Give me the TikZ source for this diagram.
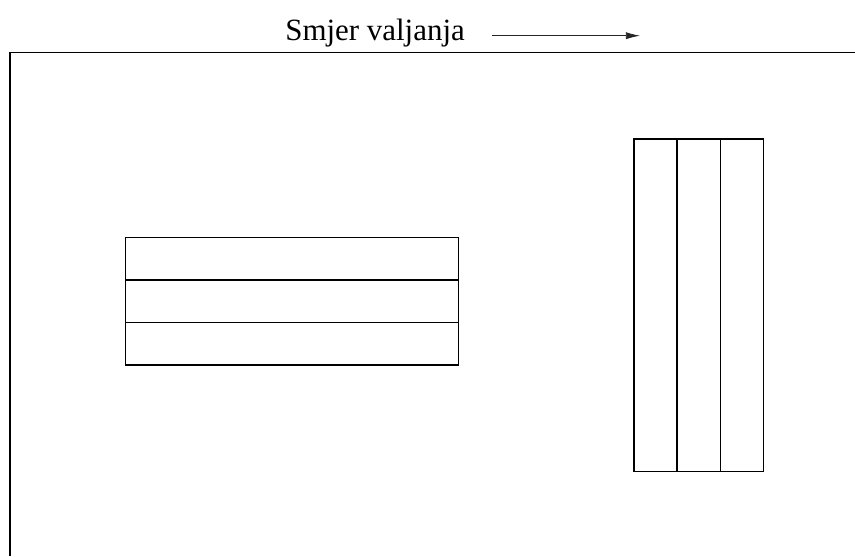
\documentclass[tikz,border=0pt]{standalone}
\usepackage{fontspec}
\setmainfont{Liberation Serif}
\usetikzlibrary{positioning, arrows.meta}

\begin{document}
\begin{tikzpicture}[x=0.02cm, y=-0.02cm,
		traka/.style={draw, line width=0.7pt, inner sep=0pt, outer sep=0pt},
		lezi/.style={traka, minimum width=6.66cm, minimum height=0.852cm},
		stoji/.style={traka, minimum width=0.862cm, minimum height=6.654cm}]
		
		\useasboundingbox (0,0) rectangle (855,556);
		
		% Label and direction
		\node[anchor=base west, inner sep=0pt, font=\fontsize{17.6}{20}\selectfont] (smjer) at (285,40) {Smjer valjanja};
		\coordinate (poc) at (492,35.7);
		\coordinate (kraj) at (640,35.7);
		\draw[black!85, line width=0.45pt, -{Latex[length=8pt, width=4pt]}] (poc) -- (kraj);
		
		% Sheet
		\draw[line width=0.85pt] (10,556) -- (10,52.7) -- (855,52.7);
		
		% Horizontal strips
		\node[lezi, anchor=north west] (h1) at (125.5,237.3) {};
		\node[lezi, below=0pt of h1] (h2) {};
		\node[lezi, below=0pt of h2] (h3) {};
		
		% Vertical strips
		\node[stoji, anchor=north west] (v1) at (634,139) {};
		\node[stoji, right=0pt of v1] (v2) {};
		\node[stoji, right=0pt of v2] (v3) {};
		
	\end{tikzpicture}
\end{document}
